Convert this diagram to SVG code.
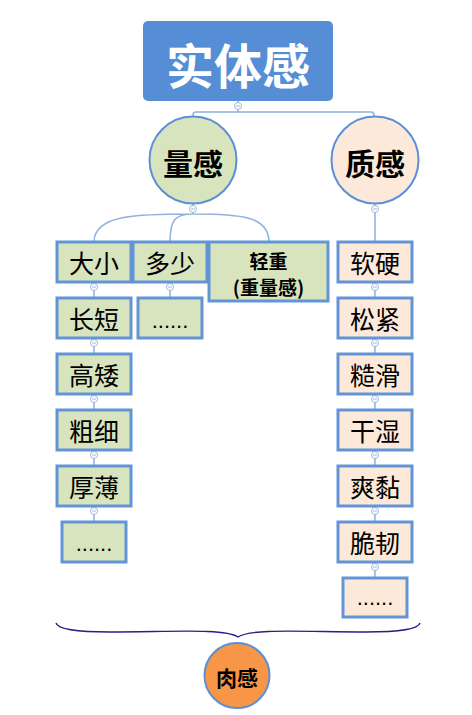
<svg xmlns="http://www.w3.org/2000/svg" width="472" height="715" viewBox="0 0 472 715">
<defs>
<style>
.cn{font-family:"Noto Sans CJK SC","Liberation Sans",sans-serif;text-anchor:middle;dominant-baseline:central}
.line{fill:none;stroke:#8EB1DE;stroke-width:1.5}
.g{fill:#D7E4BD;stroke:#6295D8;stroke-width:3}
.p{fill:#FDE9D9;stroke:#6295D8;stroke-width:3}
.lbl{font-size:25px;fill:#000}
.dots{font-size:22px;fill:#000;font-family:"Liberation Sans",sans-serif;text-anchor:middle}
</style>
<g id="t"><circle r="3.5" fill="#fff" stroke="#9DB8DA" stroke-width="1"/><path d="M-2,0H2" stroke="#9DB8DA" stroke-width="1"/></g>
</defs>
<g id="connectors">
<path class="line" d="M238,101V112M193,117V115Q193,112 196,112H371Q374,112 374,115V117"/>
<path class="line" d="M193,204V214M193,214C140,214 94,214 94,242M193,214C175,214 170,220 170,242M193,214C240,214 269,216 269,242"/>
<path class="line" d="M375,204V242"/>
<path class="line" d="M94,282V298M94,338V354M94,394V410M94,450V466M94,506V522M170,282V298"/>
<path class="line" d="M375,282V298M375,338V354M375,394V410M375,450V466M375,506V522M375,562V578"/>
<g class="tog">
<use href="#t" x="238" y="106"/>
<use href="#t" x="193" y="209"/>
<use href="#t" x="375" y="209"/>
<use href="#t" x="94" y="287"/><use href="#t" x="94" y="343"/><use href="#t" x="94" y="399"/><use href="#t" x="94" y="455"/><use href="#t" x="94" y="511"/>
<use href="#t" x="170" y="287"/>
<use href="#t" x="375" y="287"/><use href="#t" x="375" y="343"/><use href="#t" x="375" y="399"/><use href="#t" x="375" y="455"/><use href="#t" x="375" y="511"/><use href="#t" x="375" y="567"/>
</g>
<path d="M56,623C58,630 80,632 110,632C170,632 225,628 238,637C251,628 306,632 366,632C396,632 418,630 420,623" fill="none" stroke="#22228A" stroke-width="1.4"/>
</g>
<g id="root"><rect x="143" y="21" width="190" height="80" rx="5" fill="#558ED5"/><text class="cn" x="238" y="63" font-size="48" font-weight="bold" fill="#fff">实体感</text></g>
<g id="liang"><circle cx="193" cy="160" r="43.5" fill="#D7E4BD" stroke="#5B8FD6" stroke-width="2"/><text class="cn" x="193" y="162" font-size="30" font-weight="bold">量感</text></g>
<g id="zhi"><circle cx="375" cy="160" r="43.5" fill="#FDE9D9" stroke="#5B8FD6" stroke-width="2"/><text class="cn" x="375" y="162" font-size="30" font-weight="bold">质感</text></g>
<g id="daxiao"><rect class="g" x="57" y="242" width="74" height="40"/><text class="cn lbl" x="94" y="262">大小</text></g>
<g id="duoshao"><rect class="g" x="133" y="242" width="74" height="40"/><text class="cn lbl" x="170" y="262">多少</text></g>
<g id="qingzhong"><rect class="g" x="209" y="242" width="119" height="59"/><text class="cn" x="268.5" y="260" font-size="19" font-weight="bold">轻重</text><text class="cn" x="268.5" y="286" font-size="19" font-weight="bold">(重量感)</text></g>
<g id="changduan"><rect class="g" x="57" y="298" width="74" height="40"/><text class="cn lbl" x="94" y="318">长短</text></g>
<g id="duoshao-more"><rect class="g" x="138" y="298" width="64" height="40"/><text class="dots" x="170" y="328">......</text></g>
<g id="gaoai"><rect class="g" x="57" y="354" width="74" height="40"/><text class="cn lbl" x="94" y="374">高矮</text></g>
<g id="cuxi"><rect class="g" x="57" y="410" width="74" height="40"/><text class="cn lbl" x="94" y="430">粗细</text></g>
<g id="houbao"><rect class="g" x="57" y="466" width="74" height="40"/><text class="cn lbl" x="94" y="486">厚薄</text></g>
<g id="liang-more"><rect class="g" x="62" y="522" width="64" height="40"/><text class="dots" x="94" y="551">......</text></g>
<g id="ruanying"><rect class="p" x="338" y="242" width="74" height="40"/><text class="cn lbl" x="375" y="262">软硬</text></g>
<g id="songjin"><rect class="p" x="338" y="298" width="74" height="40"/><text class="cn lbl" x="375" y="318">松紧</text></g>
<g id="caohua"><rect class="p" x="338" y="354" width="74" height="40"/><text class="cn lbl" x="375" y="374">糙滑</text></g>
<g id="ganshi"><rect class="p" x="338" y="410" width="74" height="40"/><text class="cn lbl" x="375" y="430">干湿</text></g>
<g id="shuangnian"><rect class="p" x="338" y="466" width="74" height="40"/><text class="cn lbl" x="375" y="486">爽黏</text></g>
<g id="cuiren"><rect class="p" x="338" y="522" width="74" height="40"/><text class="cn lbl" x="375" y="542">脆韧</text></g>
<g id="zhi-more"><rect class="p" x="343" y="578" width="64" height="39"/><text class="dots" x="375" y="605">......</text></g>
<g id="rougan"><circle cx="237" cy="675.5" r="32.5" fill="#F79646" stroke="#5B8FD6" stroke-width="2"/><text class="cn" x="237" y="677" font-size="21" font-weight="bold">肉感</text></g>
</svg>
